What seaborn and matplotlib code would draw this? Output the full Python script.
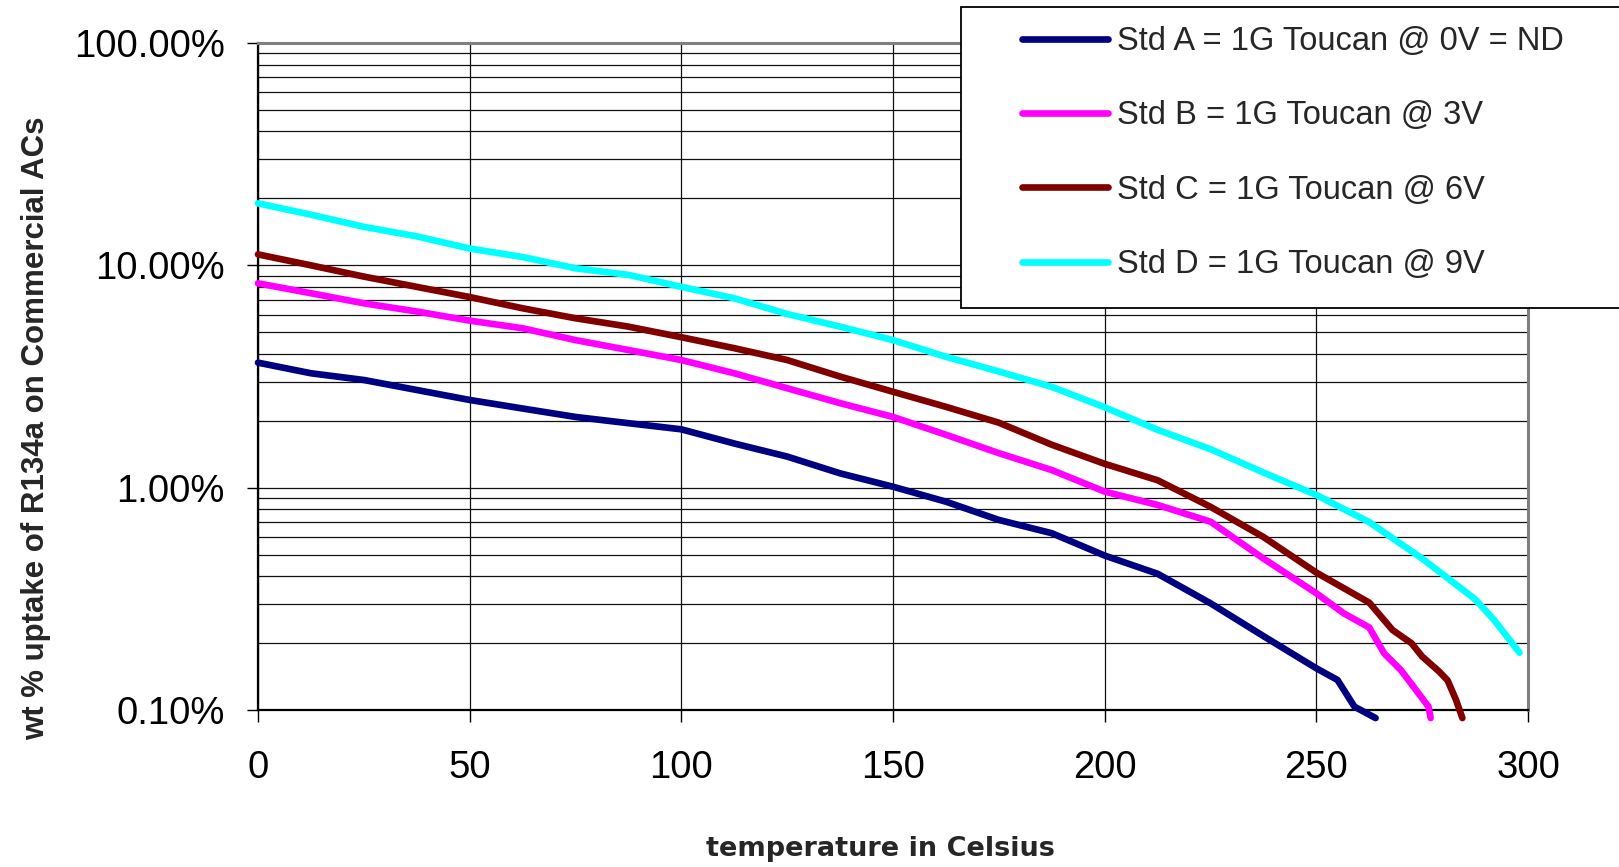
import matplotlib
matplotlib.use("Agg")
import matplotlib.pyplot as plt
import seaborn as sns
import pandas as pd
from matplotlib.ticker import LogLocator, FuncFormatter, NullFormatter, FixedLocator
from matplotlib.patches import Rectangle
from matplotlib.lines import Line2D

# ---------------- data ----------------
series_names = [
    "Std A = 1G Toucan @ 0V = ND",
    "Std B = 1G Toucan @ 3V",
    "Std C = 1G Toucan @ 6V",
    "Std D = 1G Toucan @ 9V",
]
series_colors = ["#000080", "#FF00FF", "#800000", "#00FFFF"]

temp_a = [0, 12.5, 25, 37.5, 50, 62.5, 75, 87.5, 100, 112.5, 125, 137.5, 150,
          162.5, 175, 187.5, 200, 212.5, 225, 237.5, 250, 255, 259, 264]
std_a = [3.65, 3.27, 3.05, 2.75, 2.48, 2.27, 2.08, 1.95, 1.83, 1.58, 1.38, 1.16, 1.01,
         0.865, 0.716, 0.624, 0.495, 0.41, 0.302, 0.215, 0.154, 0.1365, 0.1035, 0.092]

temp_b = [0, 12.5, 25, 37.5, 50, 62.5, 75, 87.5, 100, 112.5, 125, 137.5, 150,
          162.5, 175, 187.5, 200, 212.5, 225, 237.5, 250, 256.5, 262.5, 266, 270,
          275, 276.5, 277]
std_b = [8.3, 7.49, 6.75, 6.2, 5.64, 5.21, 4.61, 4.16, 3.75, 3.27, 2.80, 2.40, 2.08,
         1.73, 1.43, 1.20, 0.96, 0.836, 0.703, 0.48, 0.335, 0.272, 0.235, 0.18, 0.151,
         0.113, 0.1035, 0.092]

temp_c = [0, 12.5, 25, 37.5, 50, 62.5, 75, 87.5, 100, 112.5, 125, 137.5, 150,
          162.5, 175, 187.5, 200, 212.5, 225, 237.5, 250, 262.5, 268, 272.5, 275,
          279, 281, 283, 284.5]
std_c = [11.2, 10.0, 8.9, 8.0, 7.2, 6.41, 5.78, 5.30, 4.75, 4.24, 3.75, 3.16, 2.70,
         2.31, 1.96, 1.56, 1.28, 1.08, 0.82, 0.60, 0.415, 0.304, 0.229, 0.1995, 0.174,
         0.149, 0.136, 0.111, 0.092]

temp_d = [0, 12.5, 25, 37.5, 50, 62.5, 75, 87.5, 100, 112.5, 125, 137.5, 150,
          162.5, 175, 187.5, 200, 212.5, 225, 237.5, 250, 262.5, 275, 287.5, 292, 298]
std_d = [19.0, 16.9, 14.9, 13.5, 11.9, 10.9, 9.7, 9.06, 8.0, 7.11, 6.04, 5.30, 4.61,
         3.88, 3.33, 2.84, 2.30, 1.82, 1.49, 1.17, 0.927, 0.70, 0.48, 0.315, 0.254, 0.181]

x_ticks = [0, 50, 100, 150, 200, 250, 300]
y_ticks = [0.1, 1, 10, 100]

x_label = "temperature in Celsius"
y_label = "wt % uptake of R134a on Commercial ACs"

# ---------------- build long-form table ----------------
frames = []
for name, t, v in zip(series_names, [temp_a, temp_b, temp_c, temp_d],
                      [std_a, std_b, std_c, std_d]):
    frames.append(pd.DataFrame({"temp": t, "value": v, "series": name}))
df = pd.concat(frames, ignore_index=True)

# ---------------- figure ----------------
sns.set_theme(style="white")
plt.rcParams["font.family"] = ["Liberation Sans", "DejaVu Sans"]

W, H = 1619, 867
fig = plt.figure(figsize=(W / 100, H / 100), dpi=100)
fig.patch.set_facecolor("white")

L, R, T, B = 258, 1528, 43, 710
ax = fig.add_axes([L / W, (H - B) / H, (R - L) / W, (B - T) / H])

LW = 4.8
sns.lineplot(data=df, x="temp", y="value", hue="series", hue_order=series_names,
             palette=dict(zip(series_names, series_colors)), estimator=None,
             sort=False, lw=LW, legend=False, ax=ax)
for ln in ax.lines:
    ln.set_clip_on(False)
    ln.set_solid_capstyle("round")
    ln.set_solid_joinstyle("round")
    ln.set_zorder(3)

ax.set_yscale("log")
ax.set_xlim(0, 300)
ax.set_ylim(0.1, 100)
ax.xaxis.set_major_locator(FixedLocator(x_ticks))
ax.yaxis.set_major_locator(FixedLocator(y_ticks))
ax.yaxis.set_major_formatter(FuncFormatter(lambda v, p: f"{v:.2f}%"))
ax.yaxis.set_minor_locator(LogLocator(base=10, subs=[2, 3, 4, 5, 6, 7, 8, 9]))
ax.yaxis.set_minor_formatter(NullFormatter())

grid_kw = dict(color="#111111", linewidth=0.9)
ax.grid(True, which="major", axis="both", **grid_kw)
ax.grid(True, which="minor", axis="y", **grid_kw)

ax.tick_params(axis="y", which="major", direction="out", length=8, width=1.0,
               color="black", pad=16, labelsize=27.5, left=True, labelcolor="black")
ax.tick_params(axis="y", which="minor", length=0, left=False)
ax.tick_params(axis="x", which="major", direction="out", length=8.5, width=1.0,
               color="black", pad=20, labelsize=27.5, bottom=True, labelcolor="black")

for side in ["left", "bottom"]:
    ax.spines[side].set_color("black")
    ax.spines[side].set_linewidth(1.6)
for side in ["top", "right"]:
    ax.spines[side].set_color("#808080")
    ax.spines[side].set_linewidth(2.2)

ax.set_xlabel(x_label, fontsize=19.5, fontweight="bold", family="DejaVu Sans")
ax.xaxis.label.set_va("center")
ax.xaxis.set_label_coords((880 - L) / (R - L), (B - 849) / (B - T))

ax.set_ylabel(y_label, fontsize=22.5, fontweight="bold")
ax.yaxis.label.set_va("center")
ax.yaxis.set_label_coords((36 - L) / (R - L), (B - 428) / (B - T))

# legend box (extends past the right edge like the reference)
box = Rectangle((961 / W, (H - 308) / H), 0.5, (308 - 7) / H,
                transform=fig.transFigure, facecolor="white", edgecolor="black",
                linewidth=1.3, zorder=5)
fig.add_artist(box)

handles = [Line2D([], [], color=c, lw=LW, solid_capstyle="round") for c in series_colors]
leg = fig.legend(handles, series_names, loc="upper left",
                 bbox_to_anchor=(1022 / W, 1 - 26 / H), frameon=False, fontsize=23.5,
                 handlelength=2.65, handletextpad=0.25, labelspacing=1.33,
                 borderpad=0, borderaxespad=0)
leg.set_zorder(6)

fig.savefig("out.png", dpi=100, facecolor="white")
